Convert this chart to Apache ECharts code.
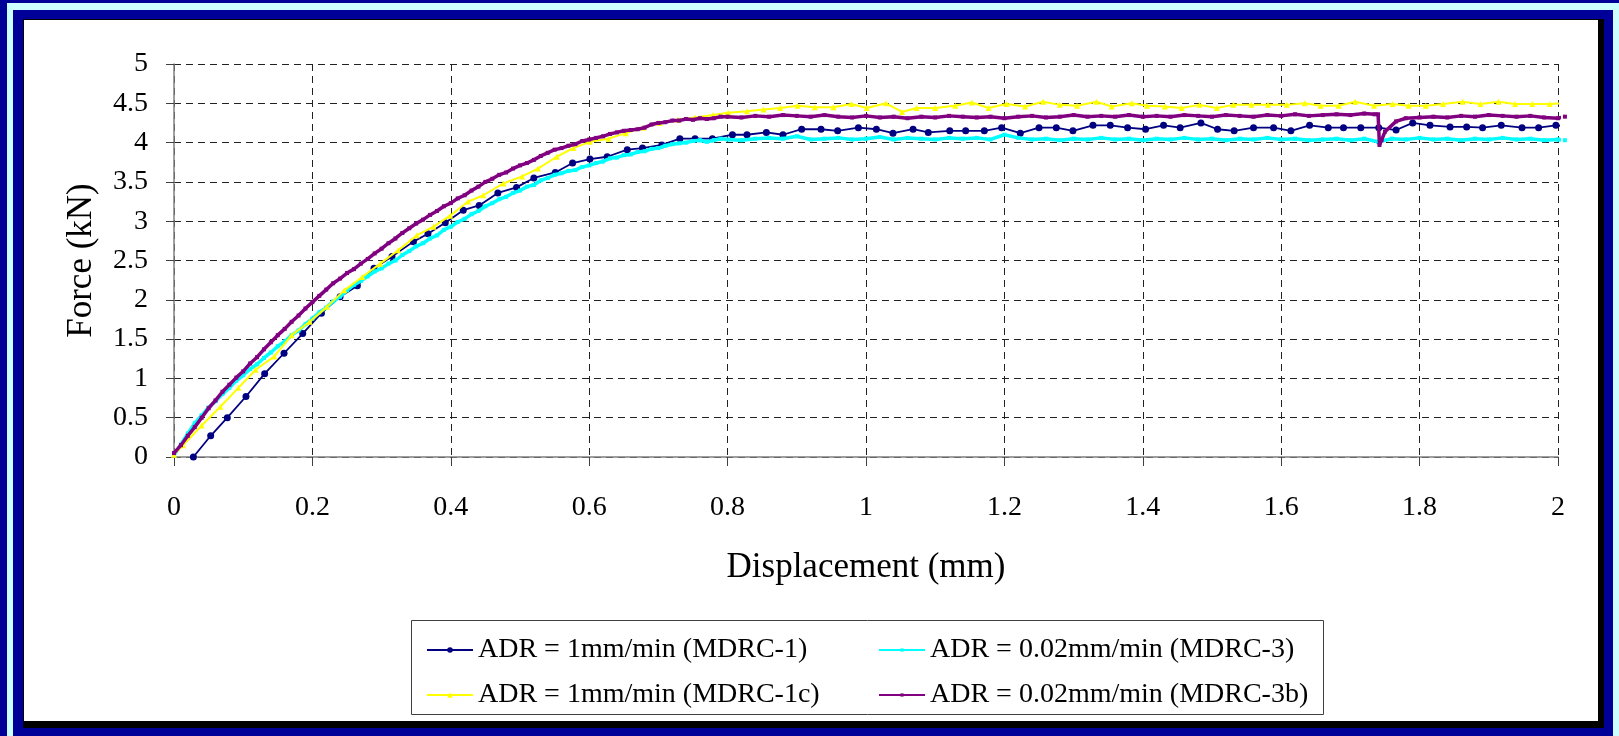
<!DOCTYPE html>
<html>
<head>
<meta charset="utf-8">
<script src="https://cdn.jsdelivr.net/npm/echarts@6/dist/echarts.min.js"></script>
<style>
html,body{margin:0;padding:0;background:#000099;}
#chart{width:1619px;height:736px;}
</style>
</head>
<body>
<div id="chart"></div>
<script>
// ---- Data (displacement mm, force kN) ----
const seriesNames = [
  'ADR = 1mm/min (MDRC-1)',
  'ADR = 0.02mm/min (MDRC-3)',
  'ADR = 1mm/min (MDRC-1c)',
  'ADR = 0.02mm/min (MDRC-3b)'
];
const xTicks = ['0','0.2','0.4','0.6','0.8','1','1.2','1.4','1.6','1.8','2'];
const yTicks = ['0','0.5','1','1.5','2','2.5','3','3.5','4','4.5','5'];

const mdrc1 = [
  [0.028,0],[0.053,0.27],[0.077,0.50],[0.104,0.77],[0.131,1.06],[0.159,1.32],[0.186,1.57],[0.213,1.83],
  [0.240,2.04],[0.265,2.18],[0.289,2.40],[0.315,2.55],[0.346,2.74],[0.367,2.84],[0.392,2.98],[0.418,3.14],
  [0.441,3.20],[0.468,3.36],[0.495,3.43],[0.520,3.55],[0.551,3.62],[0.576,3.74],[0.601,3.79],[0.626,3.82],
  [0.655,3.91],[0.677,3.93],[0.705,3.97],[0.731,4.05],[0.753,4.05],[0.778,4.05],[0.807,4.10],[0.828,4.10],
  [0.856,4.13],[0.880,4.10],[0.907,4.17],[0.935,4.17],[0.959,4.15],[0.989,4.19],[1.015,4.17],[1.039,4.12],
  [1.068,4.17],[1.090,4.13],[1.121,4.15],[1.144,4.15],[1.171,4.15],[1.196,4.19],[1.223,4.12],[1.250,4.19],
  [1.275,4.19],[1.299,4.15],[1.328,4.22],[1.353,4.22],[1.378,4.19],[1.404,4.17],[1.430,4.22],[1.454,4.19],
  [1.484,4.25],[1.508,4.17],[1.532,4.15],[1.560,4.19],[1.589,4.19],[1.614,4.15],[1.641,4.22],[1.668,4.19],
  [1.690,4.19],[1.715,4.19],[1.741,4.19],[1.766,4.16],[1.790,4.25],[1.815,4.22],[1.844,4.20],[1.868,4.20],
  [1.891,4.19],[1.918,4.22],[1.948,4.19],[1.972,4.19],[1.997,4.22],[2.008,4.21]
];

const mdrc1c = [
  [0.000,0.03],[0.013,0.15],[0.040,0.40],[0.067,0.64],[0.093,0.88],[0.118,1.11],[0.145,1.28],[0.170,1.55],
  [0.196,1.72],[0.221,1.91],[0.246,2.12],[0.272,2.29],[0.298,2.46],[0.324,2.63],[0.351,2.82],[0.375,2.93],
  [0.399,3.07],[0.425,3.25],[0.447,3.33],[0.476,3.48],[0.503,3.57],[0.526,3.67],[0.553,3.82],[0.577,3.93],
  [0.601,4.01],[0.628,4.05],[0.653,4.12],[0.678,4.19],[0.702,4.25],[0.728,4.29],[0.753,4.32],[0.779,4.35],
  [0.801,4.38],[0.828,4.40],[0.852,4.42],[0.876,4.44],[0.901,4.47],[0.926,4.45],[0.953,4.45],[0.979,4.49],
  [1.001,4.44],[1.029,4.50],[1.052,4.39],[1.073,4.44],[1.100,4.44],[1.129,4.47],[1.153,4.51],[1.177,4.44],
  [1.203,4.49],[1.230,4.46],[1.256,4.52],[1.280,4.48],[1.305,4.47],[1.333,4.52],[1.355,4.46],[1.384,4.50],
  [1.406,4.47],[1.432,4.46],[1.456,4.44],[1.482,4.48],[1.507,4.44],[1.531,4.48],[1.557,4.48],[1.581,4.48],
  [1.608,4.48],[1.634,4.50],[1.657,4.47],[1.683,4.47],[1.707,4.52],[1.734,4.47],[1.761,4.49],[1.784,4.47],
  [1.809,4.47],[1.834,4.49],[1.862,4.52],[1.888,4.49],[1.914,4.52],[1.938,4.49],[1.963,4.49],[1.988,4.49],
  [2.008,4.50]
];

const mdrc3 = [
  [0.00,0.02],[0.01,0.16],[0.02,0.30],[0.03,0.43],[0.04,0.53],[0.05,0.63],[0.06,0.71],[0.07,0.80],[0.08,0.88],
  [0.09,0.97],[0.10,1.04],[0.11,1.12],[0.12,1.18],[0.13,1.26],[0.14,1.33],[0.15,1.41],[0.16,1.47],
  [0.17,1.55],[0.18,1.61],[0.19,1.69],[0.20,1.76],[0.21,1.84],[0.22,1.90],[0.23,1.98],[0.24,2.04],
  [0.25,2.12],[0.26,2.19],[0.27,2.24],[0.28,2.30],[0.29,2.36],[0.30,2.40],[0.31,2.46],[0.32,2.50],
  [0.33,2.57],[0.34,2.62],[0.35,2.68],[0.36,2.72],[0.37,2.78],[0.38,2.82],[0.39,2.89],[0.40,2.93],
  [0.41,2.99],[0.42,3.03],[0.43,3.09],[0.44,3.13],[0.45,3.19],[0.46,3.23],[0.47,3.28],[0.48,3.31],
  [0.49,3.36],[0.50,3.39],[0.51,3.44],[0.52,3.46],[0.53,3.52],[0.54,3.55],[0.55,3.59],[0.56,3.61],
  [0.57,3.64],[0.58,3.65],[0.59,3.69],[0.60,3.71],[0.61,3.74],[0.62,3.76],[0.63,3.80],[0.64,3.81],
  [0.65,3.84],[0.66,3.85],[0.67,3.88],[0.68,3.89],[0.69,3.92],[0.70,3.93],[0.71,3.96],[0.72,3.98],
  [0.73,3.99],[0.74,4.00],[0.75,4.02],[0.76,4.03],[0.77,4.01],[0.78,4.03],[0.79,4.05],[0.80,4.04],
  [0.82,4.03],[0.84,4.05],[0.86,4.06],[0.88,4.05],[0.90,4.08],[0.92,4.04],
  [0.94,4.05],[0.96,4.06],[0.98,4.04],[1.00,4.05],[1.02,4.07],[1.04,4.04],[1.06,4.06],[1.08,4.05],
  [1.10,4.04],[1.12,4.06],[1.14,4.05],[1.16,4.06],[1.18,4.04],[1.20,4.10],[1.22,4.06],[1.24,4.04],
  [1.26,4.05],[1.28,4.03],[1.30,4.05],[1.32,4.04],[1.34,4.06],[1.36,4.04],[1.38,4.05],[1.40,4.03],
  [1.42,4.05],[1.44,4.04],[1.46,4.06],[1.48,4.04],[1.50,4.05],[1.52,4.03],[1.54,4.05],[1.56,4.04],
  [1.58,4.06],[1.60,4.04],[1.62,4.05],[1.64,4.03],[1.66,4.04],[1.68,4.05],[1.70,4.03],[1.72,4.05],
  [1.74,4.01],[1.76,4.05],[1.78,4.04],[1.80,4.06],[1.82,4.04],[1.84,4.05],[1.86,4.03],[1.88,4.05],
  [1.90,4.04],[1.92,4.06],[1.94,4.04],[1.96,4.05],[1.98,4.03],[2.00,4.04],[2.01,4.03]
];

const mdrc3b = [
  [0.00,0.05],[0.01,0.15],[0.02,0.27],[0.03,0.38],[0.04,0.50],[0.05,0.62],[0.06,0.72],[0.07,0.83],[0.08,0.92],
  [0.09,1.01],[0.10,1.09],[0.11,1.19],[0.12,1.27],[0.13,1.37],[0.14,1.46],[0.15,1.55],[0.16,1.63],
  [0.17,1.72],[0.18,1.80],[0.19,1.89],[0.20,1.97],[0.21,2.05],[0.22,2.13],[0.23,2.21],[0.24,2.27],
  [0.25,2.34],[0.26,2.39],[0.27,2.46],[0.28,2.52],[0.29,2.59],[0.30,2.65],[0.31,2.72],[0.32,2.78],
  [0.33,2.85],[0.34,2.91],[0.35,2.97],[0.36,3.02],[0.37,3.08],[0.38,3.13],[0.39,3.19],[0.40,3.23],
  [0.41,3.29],[0.42,3.33],[0.43,3.39],[0.44,3.44],[0.45,3.50],[0.46,3.54],[0.47,3.59],[0.48,3.62],
  [0.49,3.67],[0.50,3.71],[0.51,3.74],[0.52,3.78],[0.53,3.83],[0.54,3.87],[0.55,3.91],[0.56,3.93],
  [0.57,3.96],[0.58,3.98],[0.59,4.02],[0.60,4.04],[0.61,4.06],[0.62,4.08],[0.63,4.11],[0.64,4.13],
  [0.65,4.15],[0.66,4.16],[0.67,4.17],[0.68,4.19],[0.69,4.23],[0.70,4.25],[0.71,4.26],[0.72,4.28],
  [0.73,4.28],[0.74,4.30],[0.75,4.29],[0.76,4.31],[0.77,4.30],[0.78,4.31],[0.79,4.33],[0.80,4.33],
  [0.82,4.32],[0.84,4.34],[0.86,4.33],[0.88,4.35],[0.90,4.34],
  [0.92,4.33],[0.94,4.35],[0.96,4.33],[0.98,4.32],[1.00,4.34],[1.02,4.32],[1.04,4.33],[1.06,4.31],
  [1.08,4.33],[1.10,4.32],[1.12,4.34],[1.14,4.33],[1.16,4.32],[1.18,4.33],[1.20,4.31],[1.22,4.33],
  [1.24,4.34],[1.26,4.32],[1.28,4.33],[1.30,4.35],[1.32,4.33],[1.34,4.34],[1.36,4.33],[1.38,4.35],
  [1.40,4.33],[1.42,4.34],[1.44,4.33],[1.46,4.35],[1.48,4.34],[1.50,4.33],[1.52,4.35],[1.54,4.34],
  [1.56,4.33],[1.58,4.35],[1.60,4.34],[1.62,4.36],[1.64,4.34],[1.66,4.35],[1.68,4.36],[1.70,4.35],
  [1.72,4.37],[1.735,4.36],[1.740,4.36],[1.742,3.97],[1.745,4.03],[1.750,4.14],[1.766,4.27],[1.780,4.31],
  [1.80,4.32],[1.82,4.33],[1.84,4.32],[1.86,4.34],[1.88,4.33],[1.90,4.35],[1.92,4.34],[1.94,4.33],
  [1.96,4.34],[1.98,4.32],[2.00,4.31],[2.01,4.33]
];

// ---- Chart ----
const FONT = '"Liberation Serif", "Times New Roman", serif';
const chart = echarts.init(document.getElementById('chart'), null, {renderer: 'canvas'});

function lastNoSymbol(arr) {
  return arr.map((p, i) => i === arr.length - 1 ? {value: p, symbol: 'none'} : p);
}

const legendText = {fontFamily: FONT, fontSize: 28, lineHeight: 28, color: '#000'};

const option = {
  backgroundColor: '#000099',
  animation: false,
  graphic: [
    {type: 'rect', z: -10, silent: true, shape: {x: 7, y: 3, width: 1620, height: 740}, style: {fill: '#CCFFFF'}},
    {type: 'rect', z: -9, silent: true, shape: {x: 13, y: 10, width: 1600, height: 740}, style: {fill: '#000099'}},
    {type: 'rect', z: -8, silent: true, shape: {x: 23, y: 19, width: 1581, height: 709}, style: {fill: '#000000'}},
    {type: 'rect', z: -7, silent: true, shape: {x: 24, y: 20, width: 1574, height: 701}, style: {fill: '#FFFFFF'}},
    {type: 'rect', z: 5, silent: true, shape: {x: 411.5, y: 620.5, width: 912, height: 94}, style: {fill: 'none', stroke: '#404040', lineWidth: 1}}
  ],
  grid: {left: 174, right: 61, top: 64, bottom: 279, containLabel: false},
  xAxis: {
    type: 'value', min: 0, max: 2, interval: 0.2,
    name: 'Displacement (mm)', nameLocation: 'middle', nameGap: 93,
    nameTextStyle: {fontFamily: FONT, fontSize: 35, color: '#000'},
    axisLine: {show: true, onZero: false, lineStyle: {color: '#808080', width: 1.5}},
    axisTick: {show: true, inside: false, length: 9, lineStyle: {color: '#404040'}},
    axisLabel: {fontFamily: FONT, fontSize: 28, color: '#000', margin: 37,
      formatter: (v) => xTicks[Math.round(v / 0.2)]},
    splitLine: {show: true, lineStyle: {color: '#222', type: [7, 5], width: 1}}
  },
  yAxis: {
    type: 'value', min: 0, max: 5, interval: 0.5,
    name: 'Force (kN)', nameLocation: 'middle', nameGap: 75, nameRotate: 90,
    nameTextStyle: {fontFamily: FONT, fontSize: 35, color: '#000'},
    axisLine: {show: true, onZero: false, lineStyle: {color: '#808080', width: 1.5}},
    axisTick: {show: true, inside: false, length: 8, lineStyle: {color: '#404040'}},
    axisLabel: {fontFamily: FONT, fontSize: 28, color: '#000', margin: 26,
      formatter: (v) => yTicks[Math.round(v / 0.5)]},
    splitLine: {show: true, lineStyle: {color: '#222', type: [7, 5], width: 1}}
  },
  legend: [
    {
      orient: 'vertical', left: 421, top: 631, itemGap: 17, itemWidth: 46, itemHeight: 7,
      data: [seriesNames[0], seriesNames[2]], textStyle: legendText
    },
    {
      orient: 'vertical', left: 873, top: 631, itemGap: 17, itemWidth: 46, itemHeight: 4,
      data: [seriesNames[1], seriesNames[3]], textStyle: legendText
    }
  ],
  series: [
    {
      name: seriesNames[0], type: 'line', data: lastNoSymbol(mdrc1), clip: false,
      symbol: 'circle', symbolSize: 7, showAllSymbol: true,
      lineStyle: {color: '#000080', width: 1.8}, itemStyle: {color: '#000080'}, z: 2
    },
    {
      name: seriesNames[1], type: 'line', data: mdrc3, clip: false,
      symbol: 'rect', symbolSize: 4, showAllSymbol: true,
      lineStyle: {color: '#00FFFF', width: 3.5}, itemStyle: {color: '#00FFFF'}, z: 3
    },
    {
      name: seriesNames[2], type: 'line', data: lastNoSymbol(mdrc1c), clip: false,
      symbol: 'triangle', symbolSize: 6, showAllSymbol: true,
      lineStyle: {color: '#FFFF00', width: 2}, itemStyle: {color: '#FFFF00'}, z: 4
    },
    {
      name: seriesNames[3], type: 'line', data: mdrc3b, clip: false,
      symbol: 'rect', symbolSize: 4, showAllSymbol: true,
      lineStyle: {color: '#800080', width: 3.5}, itemStyle: {color: '#800080'}, z: 5
    }
  ]
};
chart.setOption(option);
</script>
</body>
</html>
